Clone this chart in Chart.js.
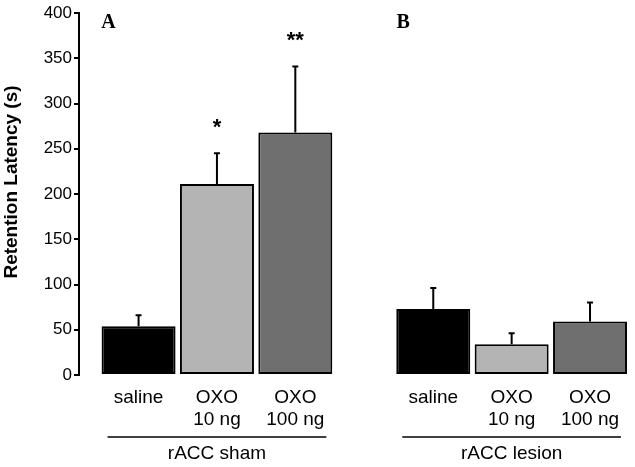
<!DOCTYPE html>
<html>
<head>
<meta charset="utf-8">
<title>Retention latency</title>
<script src="https://cdn.jsdelivr.net/npm/chart.js@4.4.0/dist/chart.umd.min.js"></script>
<style>
  body { margin: 0; background: #fff; }
  #wrap { width: 635px; height: 467px; }
</style>
</head>
<body>
<div id="wrap"><canvas id="chart"></canvas></div>
<script>
// data
const treatments = [['saline'], ['OXO', '10 ng'], ['OXO', '100 ng']];
const groups = ['rACC sham', 'rACC lesion'];
const panelLetters = ['A', 'B'];
const shamMeans = [54, 211, 268];
const shamErrors = [12, 34, 73];
const shamStars = ['', '*', '**'];
const lesionMeans = [73, 34, 59];
const lesionErrors = [23, 12, 21];
const lesionStars = ['', '', ''];
const yMax = 400;
const yStep = 50;
const yTitle = 'Retention Latency (s)';

const barColors = ['#000000', '#b4b4b4', '#6f6f6f'];
const groupGap = 3.76; // distance between first bars of the two groups, in bar slots

const allMeans = [shamMeans, lesionMeans];
const allErrors = [shamErrors, lesionErrors];
const allStars = [shamStars, lesionStars];

function xOf(g, i) {
  return g * groupGap + i;
}

const positions = [];
groups.forEach((g, gi) => treatments.forEach((t, i) => positions.push(xOf(gi, i))));

const datasets = groups.map((name, gi) => ({
  label: name,
  data: allMeans[gi].map((v, i) => ({ x: xOf(gi, i), y: v })),
  errors: allErrors[gi],
  stars: allStars[gi],
  backgroundColor: barColors,
  borderColor: '#000',
  borderWidth: 2,
  borderSkipped: false,
  categoryPercentage: 1,
  barPercentage: 0.944,
  grouped: false
}));

// error bars (upward only) and significance stars
const errorBars = {
  id: 'errorBars',
  afterDatasetsDraw(chart) {
    const ctx = chart.ctx;
    const y = chart.scales.y;
    ctx.save();
    chart.data.datasets.forEach((ds, d) => {
      chart.getDatasetMeta(d).data.forEach((bar, i) => {
        const top = y.getPixelForValue(ds.data[i].y + ds.errors[i]);
        ctx.strokeStyle = '#000';
        ctx.lineWidth = 2;
        ctx.beginPath();
        ctx.moveTo(bar.x, bar.y);
        ctx.lineTo(bar.x, top);
        ctx.moveTo(bar.x - 3, top);
        ctx.lineTo(bar.x + 3, top);
        ctx.stroke();
        if (ds.stars[i]) {
          ctx.fillStyle = '#000';
          ctx.font = 'bold 22px "Liberation Sans", Arial, sans-serif';
          ctx.textAlign = 'center';
          ctx.textBaseline = 'alphabetic';
          ctx.fillText(ds.stars[i], bar.x, top - 19);
        }
      });
    });
    ctx.restore();
  }
};

// group bars under the axis, group names, panel letters and y title
const groupLabels = {
  id: 'groupLabels',
  afterDraw(chart) {
    const ctx = chart.ctx;
    const x = chart.scales.x;
    const area = chart.chartArea;
    ctx.save();
    groups.forEach((name, gi) => {
      const first = x.getPixelForValue(xOf(gi, 0));
      const last = x.getPixelForValue(xOf(gi, treatments.length - 1));
      const lineY = area.bottom + 62;
      ctx.strokeStyle = '#000';
      ctx.lineWidth = 1.5;
      ctx.beginPath();
      ctx.moveTo(first - 31, lineY);
      ctx.lineTo(last + 31, lineY);
      ctx.stroke();
      ctx.fillStyle = '#000';
      ctx.textAlign = 'center';
      ctx.textBaseline = 'middle';
      ctx.font = '19px "Liberation Sans", Arial, sans-serif';
      ctx.fillText(name, (first + last) / 2, lineY + 17);
      ctx.font = 'bold 20px "Liberation Serif", "Times New Roman", serif';
      ctx.fillText(panelLetters[gi], first - 30, area.top + 10);
    });
    // y title sits a little above the middle of the axis in the original
    ctx.translate(12, (area.top + area.bottom) / 2 - 12);
    ctx.rotate(-Math.PI / 2);
    ctx.fillStyle = '#000';
    ctx.textAlign = 'center';
    ctx.textBaseline = 'middle';
    ctx.font = 'bold 19px "Liberation Sans", Arial, sans-serif';
    ctx.fillText(yTitle, 0, 0);
    ctx.restore();
  }
};

new Chart(document.getElementById('chart'), {
  type: 'bar',
  data: { datasets: datasets },
  options: {
    responsive: true,
    maintainAspectRatio: false,
    animation: false,
    layout: { padding: { top: 13, right: 5, bottom: 0, left: 0 } },
    plugins: { legend: { display: false }, tooltip: { enabled: false } },
    scales: {
      x: {
        type: 'linear',
        offset: false,
        bounds: 'ticks',
        min: -0.76,
        max: 6.27,
        grid: { display: false, offset: false },
        border: { display: false },
        afterBuildTicks(scale) {
          scale.ticks = positions.map(v => ({ value: v }));
        },
        afterFit(scale) {
          scale.height = 92;
        },
        ticks: {
          autoSkip: false,
          maxRotation: 0,
          padding: 3,
          color: '#000',
          font: { family: '"Liberation Sans", Arial, sans-serif', size: 19, lineHeight: 1.2 },
          callback(value, index) {
            return treatments[index % treatments.length];
          }
        }
      },
      y: {
        min: 0,
        max: yMax,
        grid: { display: true, drawOnChartArea: false, drawTicks: true, tickLength: 5, color: '#000', lineWidth: 2 },
        border: { display: true, color: '#000', width: 2 },
        afterFit(scale) {
          scale.width = 79;
        },
        ticks: {
          stepSize: yStep,
          padding: 2,
          color: '#000',
          font: { family: '"Liberation Sans", Arial, sans-serif', size: 17 }
        }
      }
    }
  },
  plugins: [errorBars, groupLabels]
});
</script>
</body>
</html>
